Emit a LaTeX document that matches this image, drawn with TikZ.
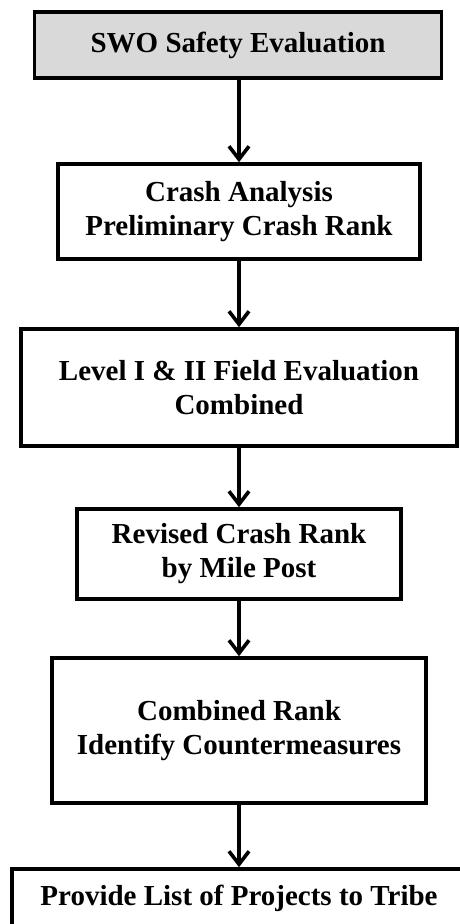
\documentclass[tikz,border=0pt]{standalone}
\usepackage{fontspec}
\setmainfont{Liberation Serif}
\usetikzlibrary{arrows.meta}
\definecolor{boxgray}{HTML}{D9D9D9}
\tikzset{
  flowbox/.style={draw=black, line width=3.6pt, rectangle, align=center,
    inner sep=0pt, font=\fontsize{29}{34}\selectfont\bfseries},
  flowarrow/.style={line width=3.6pt, -{Straight Barb[length=13pt,width=20pt,line join=miter]}}
}
\begin{document}
\begin{tikzpicture}[x=1pt,y=-1pt]
\useasboundingbox (0,0) rectangle (460,924);
\clip (0,0) rectangle (460,924);
\node[flowbox, fill=boxgray, minimum width=407pt, minimum height=66pt] (b1) at (238,45) {SWO Safety Evaluation};
\node[flowbox, minimum width=362pt, minimum height=95pt] (b2) at (239,211.5) {Crash Analysis\\Preliminary Crash Rank};
\node[flowbox, minimum width=436pt, minimum height=117pt] (b3) at (239,387.5) {Level I \& II Field Evaluation\\Combined};
\node[flowbox, minimum width=324pt, minimum height=90pt] (b4) at (239,554) {Revised Crash Rank\\by Mile Post};
\node[flowbox, minimum width=374pt, minimum height=145pt] (b5) at (239,730.5) {Combined Rank\\Identify Countermeasures};
\node[flowbox, minimum width=454pt, minimum height=58pt] (b6) at (239,898) {Provide List of Projects to Tribe};
\draw[flowarrow] (b1.south -| b2.north) -- (b2.north);
\draw[flowarrow] (b2) -- (b3);
\draw[flowarrow] (b3) -- (b4);
\draw[flowarrow] (b4) -- (b5);
\draw[flowarrow] (b5) -- (b6);
\end{tikzpicture}
\end{document}
